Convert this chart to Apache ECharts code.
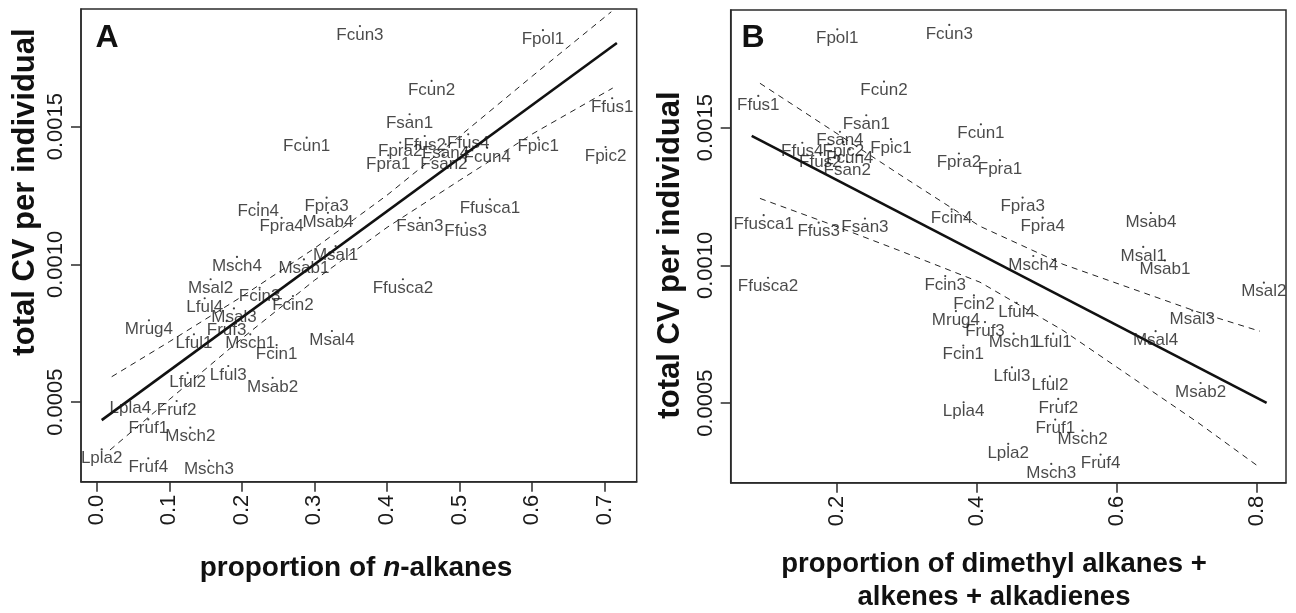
<!DOCTYPE html>
<html><head><meta charset="utf-8">
<script src="https://cdn.jsdelivr.net/npm/echarts@6/dist/echarts.min.js"></script>
<style>html,body{margin:0;padding:0;background:#fff}#c{width:1296px;height:613px}</style>
</head><body><div id="c"></div>
<script>
const names = ['Fcun1','Fcun2','Fcun3','Fcun4','Fpol1','Fsan1','Fsan2','Fsan3','Fsan4','Ffus1','Ffus2','Ffus3','Ffus4','Fpra1','Fpra2','Fpra3','Fpra4','Fpic1','Fpic2','Ffusca1','Ffusca2','Fcin1','Fcin2','Fcin3','Fcin4','Msab1','Msab2','Msab4','Msal1','Msal2','Msal3','Msal4','Msch1','Msch2','Msch3','Msch4','Mrug4','Lful1','Lful2','Lful3','Lful4','Lpla2','Lpla4','Fruf1','Fruf2','Fruf3','Fruf4'];
// panel A: proportion of n-alkanes vs total CV
const xA = [0.2893,0.4614,0.3627,0.538,0.6148,0.4311,0.4784,0.4453,0.4807,0.7102,0.452,0.5083,0.5119,0.4017,0.4182,0.3168,0.2548,0.6083,0.7011,0.5417,0.4219,0.2479,0.2704,0.2245,0.2226,0.2855,0.2424,0.3186,0.3292,0.157,0.1891,0.3241,0.2116,0.129,0.1547,0.1933,0.072,0.134,0.1253,0.1813,0.1488,0.0069,0.0463,0.0711,0.1102,0.179,0.0711];
const yA = [0.00146,0.001666,0.001865,0.001423,0.00185,0.001545,0.001396,0.001169,0.001436,0.001603,0.001466,0.001151,0.001472,0.001396,0.001442,0.001242,0.001169,0.00146,0.001426,0.001236,0.000946,0.000707,0.000885,0.000915,0.001224,0.001018,0.000588,0.001187,0.001066,0.000946,0.00084,0.000758,0.000746,0.000407,0.000288,0.001027,0.000797,0.000746,0.000606,0.000631,0.000877,0.000328,0.00051,0.000437,0.000504,0.000794,0.000296];
// panel B: proportion of dimethyl alkanes + alkenes + alkadienes vs total CV
const xB = [0.4061,0.2676,0.3609,0.2186,0.2009,0.2423,0.2151,0.2404,0.2047,0.088,0.1766,0.1743,0.1509,0.4333,0.3747,0.4657,0.4943,0.2776,0.2095,0.0957,0.1019,0.3809,0.3961,0.3551,0.3643,0.669,0.72,0.649,0.638,0.8104,0.708,0.6557,0.4529,0.5514,0.5066,0.4809,0.3704,0.5094,0.5047,0.4504,0.4571,0.4451,0.3814,0.5123,0.5166,0.4119,0.5771];
const yB = [0.001512,0.001667,0.001873,0.001421,0.001857,0.001545,0.001376,0.00117,0.001485,0.001615,0.001406,0.001155,0.001445,0.001382,0.001406,0.001246,0.001173,0.001458,0.001448,0.001182,0.000955,0.000709,0.000891,0.000961,0.001203,0.001018,0.000573,0.00119,0.001067,0.000937,0.000836,0.000761,0.000752,0.0004,0.000279,0.001034,0.000834,0.000752,0.000597,0.00063,0.000864,0.000352,0.000503,0.00044,0.000515,0.000794,0.000313];
// regression lines and confidence bands
const fitA = [[0.0069,0.0004346],[0.7167,0.0018036]];
const upperA = [[0.0207,0.000592],[0.1,0.000719],[0.2,0.000883],[0.3,0.001058],[0.4,0.001251],[0.5,0.001465],[0.6,0.001683],[0.709,0.001917]];
const lowerA = [[0.0183,0.000326],[0.1,0.000509],[0.2,0.000731],[0.3,0.000942],[0.4,0.001134],[0.5,0.001305],[0.6,0.001473],[0.711,0.00164]];
const fitB = [[0.0786,0.00147],[0.8143,0.000501]];
const upperB = [[0.0904,0.001661],[0.1947,0.001488],[0.2904,0.001329],[0.4047,0.001142],[0.5233,0.001004],[0.619,0.000918],[0.7147,0.000832],[0.8047,0.000761]];
const lowerB = [[0.0904,0.001243],[0.1947,0.001146],[0.2904,0.001053],[0.4047,0.000939],[0.5233,0.000764],[0.619,0.000598],[0.7147,0.000432],[0.8047,0.000266]];
const xTicksA = [0,0.1,0.2,0.3,0.4,0.5,0.6,0.7];
const xTicksB = [0.2,0.4,0.6,0.8];
const yTicks = [0.0005,0.0010,0.0015];

const FONT = '"Liberation Sans", Arial, Helvetica, sans-serif';
const INK = '#1a1a1a';
const chart = echarts.init(document.getElementById('c'), null, {renderer:'canvas'});

function xAxisDef(grid, min, max, ticks){
  return {type:'value', gridIndex:grid, min:min, max:max, position:'bottom',
    splitLine:{show:false},
    axisLine:{show:true, onZero:false, lineStyle:{color:'#2b2b2b', width:1.5}},
    axisTick:{show:true, inside:false, length:10, customValues:ticks, lineStyle:{color:'#2b2b2b', width:1.5}},
    axisLabel:{show:true, customValues:ticks, rotate:90, margin:13, fontSize:22, fontFamily:FONT, color:INK,
      formatter:v=>Number(v).toFixed(1)}};
}
function yAxisDef(grid){
  return {type:'value', gridIndex:grid, min:0.000211, max:0.001927, position:'left',
    splitLine:{show:false},
    axisLine:{show:true, onZero:false, lineStyle:{color:'#2b2b2b', width:1.5}},
    axisTick:{show:true, inside:false, length:10, customValues:yTicks, lineStyle:{color:'#2b2b2b', width:1.5}},
    axisLabel:{show:true, customValues:yTicks, rotate:90, margin:14, fontSize:22, fontFamily:FONT, color:INK,
      formatter:v=>Number(v).toFixed(4)}};
}
function pts(xs, ys){ return names.map((n,i)=>({name:n, value:[xs[i], ys[i]]})); }
function scatter(idx, xs, ys){
  return {type:'scatter', xAxisIndex:idx, yAxisIndex:idx, symbol:'circle', symbolSize:2.2,
    itemStyle:{color:'#111'}, data:pts(xs,ys), z:5,
    label:{show:true, position:'inside', offset:[0,9], formatter:'{b}', fontSize:17, fontFamily:FONT, color:'#1c1c1c'},
    emphasis:{disabled:true}};
}
function line(idx, data, dashed){
  return {type:'line', xAxisIndex:idx, yAxisIndex:idx, data:data, showSymbol:false, symbol:'none', clip:true, z:3,
    lineStyle: dashed ? {color:'#222', width:1, type:[6,5]} : {color:'#111', width:2.6}};
}
const titleFont = {fontFamily:FONT, fontWeight:'bold', fontSize:28};
chart.setOption({
  animation:false,
  backgroundColor:'#fff',
  grid:[
    {left:81, top:9, width:555.7, height:472.7, show:true, borderColor:'#2b2b2b', borderWidth:1.5, backgroundColor:'transparent'},
    {left:730.7, top:10, width:555.3, height:472.7, show:true, borderColor:'#2b2b2b', borderWidth:1.5, backgroundColor:'transparent'}
  ],
  xAxis:[ xAxisDef(0, -0.0216, 0.744, xTicksA), xAxisDef(1, 0.0486, 0.842, xTicksB) ],
  yAxis:[ yAxisDef(0), yAxisDef(1) ],
  series:[
    scatter(0, xA, yA), line(0, fitA, false), line(0, upperA, true), line(0, lowerA, true),
    scatter(1, xB, yB), line(1, fitB, false), line(1, upperB, true), line(1, lowerB, true)
  ],
  graphic:[
    {type:'text', x:107, y:38, style:{text:'A', fontFamily:FONT, fontWeight:'bold', fontSize:32, fill:'#111', align:'center', verticalAlign:'middle'}},
    {type:'text', x:753, y:38, style:{text:'B', fontFamily:FONT, fontWeight:'bold', fontSize:32, fill:'#111', align:'center', verticalAlign:'middle'}},
    {type:'text', x:25, y:192, rotation:Math.PI/2, style:{text:'total CV per individual', fontFamily:FONT, fontWeight:'bold', fontSize:31, fill:'#111', align:'center', verticalAlign:'middle'}},
    {type:'text', x:670, y:255, rotation:Math.PI/2, style:{text:'total CV per individual', fontFamily:FONT, fontWeight:'bold', fontSize:31, fill:'#111', align:'center', verticalAlign:'middle'}},
    {type:'text', x:356, y:568, style:{text:'{b|proportion of }{i|n}{b|-alkanes}', align:'center', verticalAlign:'middle', fill:'#111',
       fontFamily:FONT, fontWeight:'bold', fontSize:28,
       rich:{b:Object.assign({fill:'#111'}, titleFont), i:Object.assign({fill:'#111', fontStyle:'italic'}, titleFont)}}},
    {type:'text', x:994, y:564, style:{text:'proportion of dimethyl alkanes +', fontFamily:FONT, fontWeight:'bold', fontSize:27.5, fill:'#111', align:'center', verticalAlign:'middle'}},
    {type:'text', x:994, y:597, style:{text:'alkenes + alkadienes', fontFamily:FONT, fontWeight:'bold', fontSize:27.5, fill:'#111', align:'center', verticalAlign:'middle'}}
  ]
});
</script></body></html>
